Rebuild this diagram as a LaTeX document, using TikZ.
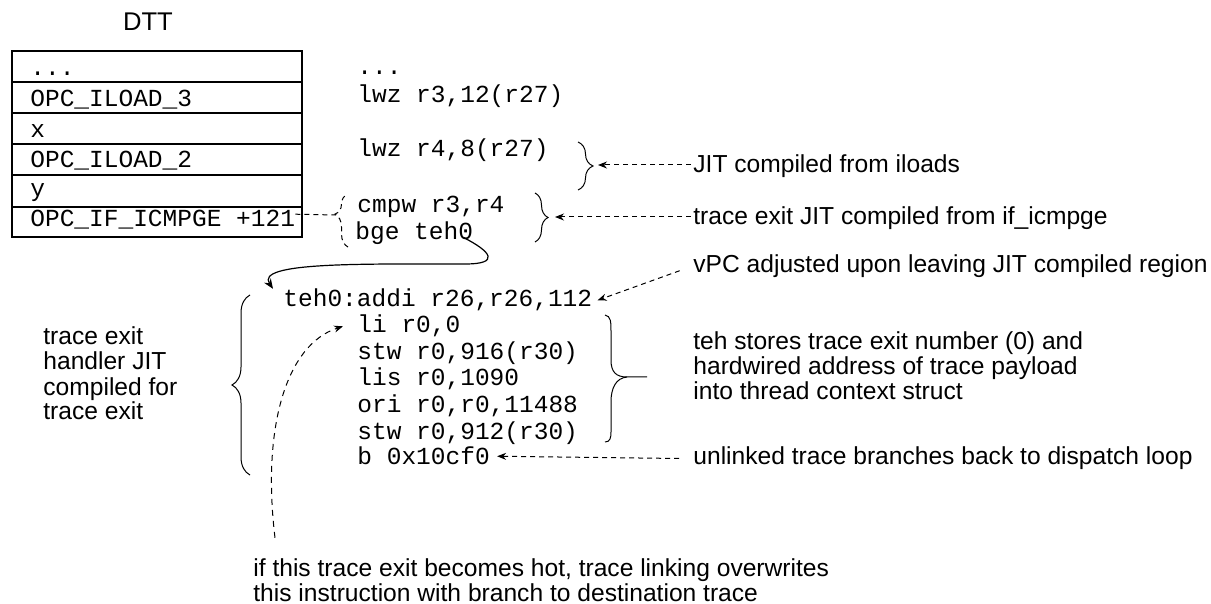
\documentclass[tikz,border=0pt]{standalone}
\usepackage{fontspec}
\setmainfont{Liberation Sans}
\newfontfamily\codefont{Liberation Mono}
\usetikzlibrary{arrows.meta,decorations.pathreplacing}

\tikzset{
  note/.style={font=\fontsize{12.3}{12.5}\selectfont, inner sep=1pt, align=left, anchor=base west},
  code/.style={font=\codefont\fontsize{12.25}{13}\selectfont, inner sep=0pt, anchor=base west},
  cell/.style={line width=1pt},
  hint/.style={line width=0.5pt, dash pattern=on 2.5pt off 2pt, -{Stealth[length=4.5pt,width=3.5pt]}},
  curly/.style={decorate, decoration={brace, amplitude=#1}, line width=0.5pt},
}

\begin{document}
\begin{tikzpicture}[x=0.5pt,y=-0.5pt]
        \useasboundingbox (0,0) rectangle (1211,604);

        % DTT table
        \node[font=\fontsize{12.8}{13}\selectfont, anchor=base] (dtt) at (148,31) {DTT};
        \draw[cell] (12,51) rectangle (302,237);
        \foreach \y in {82,113,144,175,207}
            \draw[cell] (12,\y) -- (302,\y);
        \node[code] (d1) at (30,76) {...};
        \node[code] (d2) at (30,107) {OPC\_ILOAD\_3};
        \node[code] (d3) at (30,138) {x};
        \node[code] (d4) at (30,168) {OPC\_ILOAD\_2};
        \node[code] (d5) at (30,197) {y};
        \node[code] (d6) at (30,227) {OPC\_IF\_ICMPGE +121};

        % Trace code
        \node[code] (c0) at (357,75) {...};
        \node[code] (c1) at (357,103) {lwz r3,12(r27)};
        \node[code] (c2) at (357,157) {lwz r4,8(r27)};
        \node[code] (c3) at (357,213) {cmpw r3,r4};
        \node[code] (c4) at (355,240) {bge teh0};

        % Trace exit handler
        \node[code] (t0) at (283,307) {teh0:addi r26,r26,112};
        \node[code] (t1) at (357,333) {li r0,0};
        \node[code] (t2) at (357,360) {stw r0,916(r30)};
        \node[code] (t3) at (357,386) {lis r0,1090};
        \node[code] (t4) at (357,413) {ori r0,r0,11488};
        \node[code] (t5) at (357,439) {stw r0,912(r30)};
        \node[code] (t6) at (357,465) {b 0x10cf0};

        % Annotations (multi-line ones sit on their last line)
        \node[note] (n1) at (691,173) {JIT compiled from iloads};
        \node[note] (n2) at (691,225) {trace exit JIT compiled from if\_icmpge};
        \node[note] (n3) at (691,273) {vPC adjusted upon leaving JIT compiled region};
        \node[note] (n4) at (691,400) {teh stores trace exit number (0) and\\hardwired address of trace payload\\into thread context struct};
        \node[note] (n5) at (691,465) {unlinked trace branches back to dispatch loop};
        \node[note] (n6) at (41,420) {trace exit\\handler JIT\\compiled for\\trace exit};
        \node[note] (n7) at (251,601) {if this trace exit becomes hot, trace linking overwrites\\this instruction with branch to destination trace};

        % Braces
        \draw[curly=7.5pt] (578,142) -- (578,190);
        \draw[curly=6.5pt] (535,193) -- (535,242);
        \draw[curly=6.5pt, dash pattern=on 2.5pt off 2pt, decoration={aspect=0.62}] (348,247) -- (348,194);
        \draw[curly=9pt] (250,475) -- (250,295);
        \draw[line width=0.5pt] (605,315) .. controls (611,316) and (611,322) .. (611,332) -- (611,360)
            .. controls (611,372) and (616,377) .. (627,377) -- (647,377);
        \draw[line width=0.5pt] (627,377) .. controls (616,378) and (611,388) .. (611,402) -- (611,432)
            .. controls (611,438) and (610,442) .. (605,442);

        \coordinate (b1) at (598,165);
        \coordinate (b2) at (555,217);
        \coordinate (bt) at (336,215);

        % Connectors
        \draw[line width=0.5pt, dash pattern=on 2.5pt off 2pt] ([yshift=-2pt]d6.north east) -- (bt);
        \draw[hint] (n1.west |- b1) -- (b1);
        \draw[hint] (n2.west |- b2) -- (b2);
        \draw[hint, shorten <=6pt] (n3.west) -- ([xshift=2.5pt]t0.east);
        \draw[hint, shorten <=6pt] (n5.west) -- ([xshift=3.5pt]t6.east);
        \draw[line width=0.6pt, -{Stealth[length=5pt,width=4pt]}] ([shift={(-5pt,4pt)}]c4.south east)
            .. controls (492,252) and (500,264) .. (465,264)
            .. controls (360,264) and (255,262) .. ([xshift=-5pt]t0.north west);
        \draw[hint, dash pattern=on 3pt off 2.5pt] ([shift={(12pt,9pt)}]n7.north west)
            .. controls (262,430) and (285,345) .. ([xshift=-7pt]t1.west);

\end{tikzpicture}
\end{document}
